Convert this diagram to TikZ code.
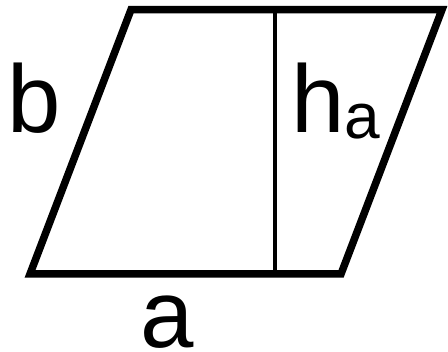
\documentclass[tikz,border=0pt]{standalone}
\usepackage{fontspec}
\setmainfont{Liberation Sans}
\begin{document}
\begin{tikzpicture}[x=1pt,y=-1pt,
  outline/.style={line width=7.5pt,line join=miter,miter limit=10},
  height/.style={line width=3.8pt},
  lbl/.style={inner sep=0pt,anchor=base west,font=\fontsize{96}{96}\selectfont}]
\useasboundingbox (0,0) rectangle (448,352);
\coordinate (BL) at (30,274);
\coordinate (BR) at (341,274);
\coordinate (TR) at (442,9.7);
\coordinate (TL) at (131,9.7);
\coordinate (HT) at (274.7,9.7);
\coordinate (HB) at (274.7,274);
\draw[height] (HT) -- (HB);
\draw[outline] (BL) -- (BR) -- (TR) -- (TL) -- cycle;
\node[lbl] (b) at (6.8,132.3) {b};
\node[lbl] (h) at (291.4,132.3) {h\raisebox{-6.2pt}{\fontsize{64}{64}\selectfont a}};
\node[lbl] (a) at (140.5,348) {a};
\end{tikzpicture}
\end{document}
